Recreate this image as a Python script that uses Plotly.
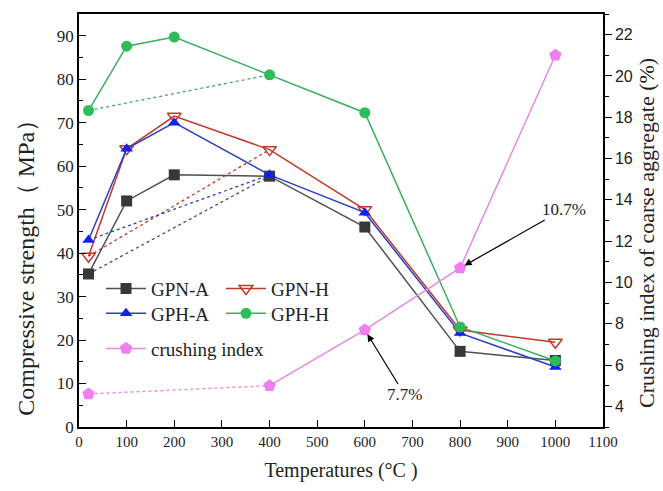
import plotly.graph_objects as go

temps = [20, 100, 200, 400, 600, 800, 1000]
gpn_a = [35.2, 52.0, 58.0, 57.7, 46.0, 17.4, 15.3]
gpn_h = [39.3, 64.0, 71.5, 63.8, 50.0, 22.3, 19.5]
gph_a = [43.0, 64.0, 70.0, 58.0, 49.3, 21.6, 13.8]
gph_h = [72.8, 87.6, 89.7, 81.0, 72.3, 23.0, 15.2]
crush_t = [20, 400, 600, 800, 1000]
crush = [4.6, 5.0, 7.7, 10.7, 21.0]

SERIF = "Liberation Serif"
fig = go.Figure()

series = [
    ("GPN-A", gpn_a, "#505050", "#383838", "square", "legend"),
    ("GPN-H", gpn_h, "#c0392b", "#c0392b", "triangle-down-open", "legend"),
    ("GPH-A", gph_a, "#2b3fc4", "#1020ee", "triangle-up", "legend2"),
    ("GPH-H", gph_h, "#3cae60", "#2ebc5a", "circle", "legend2"),
]
i400 = temps.index(400)
for name, vals, lc, mc, sym, lg in series:
    fig.add_trace(go.Scatter(
        x=[temps[0], temps[i400]], y=[vals[0], vals[i400]], mode="lines",
        line=dict(color=lc, width=1.3, dash="dot"), showlegend=False, hoverinfo="skip"))
    fig.add_trace(go.Scatter(
        x=temps, y=vals, mode="lines+markers", name=name, legend=lg,
        line=dict(color=lc, width=1.5),
        marker=dict(symbol=sym, size=12 if "open" in sym else 11, color=mc,
                    line=dict(color=mc, width=1.5 if "open" in sym else 0))))

pc = "#e58ae5"
pm = "#f07ef0"
fig.add_trace(go.Scatter(
    x=crush_t[:2], y=crush[:2], mode="lines", yaxis="y2",
    line=dict(color=pc, width=1.4, dash="dot"), showlegend=False, hoverinfo="skip"))
fig.add_trace(go.Scatter(
    x=crush_t[1:], y=crush[1:], mode="lines", yaxis="y2",
    line=dict(color=pc, width=1.5), showlegend=False, hoverinfo="skip"))
fig.add_trace(go.Scatter(
    x=crush_t, y=crush, mode="markers", yaxis="y2", showlegend=False,
    marker=dict(symbol="pentagon", size=13, color=pm)))
fig.add_trace(go.Scatter(
    x=[None], y=[None], mode="lines+markers", name="crushing index", legend="legend3",
    line=dict(color=pc, width=1.5), marker=dict(symbol="pentagon", size=13, color=pm)))

fig.add_annotation(x=800, y=10.7, yref="y2", xref="x", text="10.7%", showarrow=True,
                   ax=104, ay=-59, arrowhead=2, arrowsize=1.2, arrowwidth=1.2,
                   arrowcolor="black", standoff=5, font=dict(family=SERIF, size=17, color="#222"))
fig.add_annotation(x=600, y=7.7, yref="y2", xref="x", text="7.7%", showarrow=True,
                   ax=40, ay=65, arrowhead=2, arrowsize=1.2, arrowwidth=1.2,
                   arrowcolor="black", standoff=5, font=dict(family=SERIF, size=17, color="#222"))

# axis titles as rotated text
fig.add_annotation(x=0, y=0.40, xref="paper", yref="paper", xshift=-53, showarrow=False,
                   text="Compressive strength（ MPa）", textangle=-90,
                   xanchor="center", yanchor="middle", font=dict(family=SERIF, size=24, color="#222"))
fig.add_annotation(x=1, y=0.47, xref="paper", yref="paper", xshift=44, showarrow=False,
                   text="Crushing index of coarse aggregate (%)", textangle=-90,
                   xanchor="center", yanchor="middle", font=dict(family=SERIF, size=22, color="#222"))

axis_common = dict(showline=True, linecolor="black", linewidth=1.5, showgrid=False,
                   zeroline=False, ticklen=7, tickwidth=1.3, tickcolor="black")
legend_common = dict(font=dict(family=SERIF, size=19, color="#222"), bgcolor="rgba(0,0,0,0)",
                     orientation="h", xanchor="left", yanchor="middle", itemwidth=40,
                     tracegroupgap=0)
fig.update_layout(
    width=663, height=491, margin=dict(l=79, r=60, t=12, b=64),
    plot_bgcolor="white", paper_bgcolor="white",
    font=dict(family=SERIF, size=15, color="#222"),
    xaxis=dict(range=[0, 1100], dtick=100, ticks="inside", mirror=True,
               tickfont=dict(size=15),
               title=dict(text="Temperatures (°C )", font=dict(size=20), standoff=14),
               **axis_common),
    yaxis=dict(range=[0, 95], dtick=10, ticks="inside",
               tickfont=dict(size=17),
               minor=dict(dtick=5, ticks="inside", ticklen=4, tickcolor="black"),
               **axis_common),
    yaxis2=dict(range=[3.0, 23.0], overlaying="y", side="right",
                ticks="outside", tickvals=list(range(4, 23, 2)),
                minor=dict(dtick=1, ticks="outside", ticklen=4, tickcolor="black"),
                tickfont=dict(family="Liberation Sans", size=16),
                **axis_common),
    legend=dict(x=0.042, y=0.335, entrywidth=65, **legend_common),
    legend2=dict(x=0.042, y=0.275, entrywidth=65, **legend_common),
    legend3=dict(x=0.042, y=0.19, **legend_common),
)
fig.write_html("out.html")
